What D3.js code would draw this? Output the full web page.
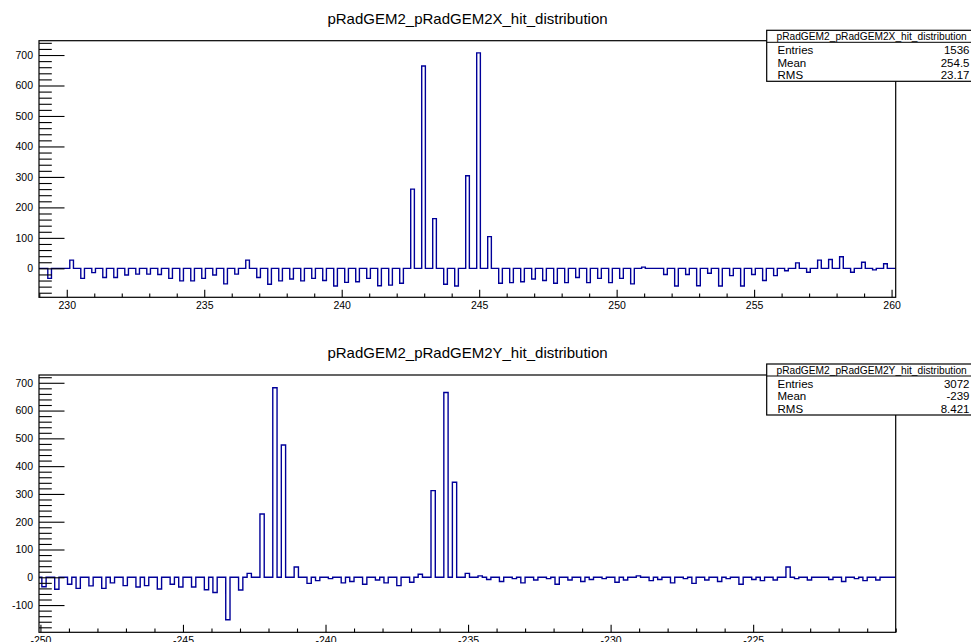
<!DOCTYPE html>
<html><head><meta charset="utf-8">
<script src="https://cdn.jsdelivr.net/npm/d3@7"></script>
<style>
body{margin:0;background:#fff}
text{font-family:"Liberation Sans",Arial,Helvetica,sans-serif;fill:#000}
</style>
</head><body>
<svg id="c" width="971" height="642"></svg>
<script>
// ---------------- data ----------------
const titleX = "pRadGEM2_pRadGEM2X_hit_distribution";
const titleY = "pRadGEM2_pRadGEM2Y_hit_distribution";
const statsXLabels = ["Entries", "Mean", "RMS"];
const statsXValues = ["1536", "254.5", "23.17"];
const statsYLabels = ["Entries", "Mean", "RMS"];
const statsYValues = ["3072", "-239", "8.421"];

// X plane histogram (strip pitch 0.4, bin width 0.4/3)
const xRangeX = [228.99, 260.15];
const yRangeX = [-95, 747];
const xMajorX = [230, 235, 240, 245, 250, 255, 260];
const yMajorX = [0, 100, 200, 300, 400, 500, 600, 700];
const binWidthX = 0.4 / 3;
const binOriginX = 229.31;
const firstStripX = 229.31 + 0.2 / 3;
const stripPitchX = 0.4;
const stripValuesX = [
  -33, 0, 27, -33, -14, -30, -30, -22, -19, -19,
  -20, -33, -41, -41, -33, -22, -51, -19, 27, -30,
  -52, -41, -35, -41, -33, -40, -58, -46, -44, -33,
  -57, -55, -49, 260, 664, 163, -52, -58, 304, 707,
  104, -49, -47, -44, -35, -40, -49, -47, -30, -47,
  -33, -47, -33, -51, 4, 0, -20, -58, -20, -57,
  -16, -58, -24, -58, -20, -40, -24, -8, 18, -13,
  27, 29, 38, -13, 20, -5, 15, 0
];

// Y plane histogram (strip pitch 0.4, bin width 0.15)
const xRangeY = [-250.05, -220.0];
const yRangeY = [-198, 728];
const xMajorY = [-250, -245, -240, -235, -230, -225];
const yMajorY = [-100, 0, 100, 200, 300, 400, 500, 600, 700];
const binWidthY = 0.15;
const binOriginY = -242.30;
const firstStripY = -242.249 - 19 * 0.4;
const stripPitchY = 0.4;
const stripValuesY = [
  -34, -43, -25, -40, -31, -40, -20, -30, -35, -30,
  -42, -25, -35, -35, -45, -55, -153, -46, 14, 228,
  682, 476, 37, -22, -12, -5, -20, -15, -25, -10,
  -20, -30, -18, 11, 312, 665, 342, 14, 5, -8,
  -15, -5, -20, -10, -5, -25, -10, -15, -8, -5,
  -18, -10, 5, -12, -8, -20, -5, -22, -10, -15,
  -5, -25, -8, -12, -10, 37, -5, -10, 0, -8,
  -15, -5, -12, -10, 0
];

// ---------------- drawing ----------------
const svg = d3.select("#c");
const FL = 39, FR = 895.7;
const lineColor = "#000099";
const fmt = d => String(d);   // ROOT uses plain hyphen-minus

function fillBins(origin, bw, first, pitch, values) {
  const m = new Map();
  values.forEach((v, k) => {
    const pos = first + k * pitch;
    const bi = Math.floor((pos - origin) / bw + 1e-9);
    m.set(bi, (m.get(bi) || 0) + v);
  });
  return m;
}

function panel(o) {
  const g = svg.append("g");
  const x = d3.scaleLinear().domain(o.xRange).range([FL, FR]);
  const y = d3.scaleLinear().domain(o.yRange).range([o.bottom, o.top]);

  // title
  g.append("text").attr("x", 467.5).attr("y", o.top - 17)
    .attr("text-anchor", "middle").style("font-size", "15px").text(o.title);

  // histogram
  const bins = fillBins(o.origin, o.bw, o.first, o.pitch, o.values);
  const i0 = Math.floor((o.xRange[0] - o.origin) / o.bw);
  const i1 = Math.ceil((o.xRange[1] - o.origin) / o.bw);
  const pts = [];
  for (let i = i0; i < i1; i++) {
    const l = Math.max(o.origin + i * o.bw, o.xRange[0]);
    const r = Math.min(o.origin + (i + 1) * o.bw, o.xRange[1]);
    const c = bins.get(i) || 0;
    pts.push([l, c], [r, c]);
  }
  const clipId = "clip" + o.id;
  svg.append("clipPath").attr("id", clipId).append("rect")
    .attr("x", FL).attr("y", o.top).attr("width", FR - FL).attr("height", o.bottom - o.top);
  g.append("path").attr("clip-path", `url(#${clipId})`)
    .attr("d", d3.line().x(d => x(d[0])).y(d => y(d[1]))(pts))
    .attr("fill", "none").attr("stroke", lineColor).attr("stroke-width", 1.4);

  // x axis
  const xMinor = d3.range(Math.ceil(o.xRange[0]), Math.floor(o.xRange[1]) + 1)
    .filter(v => !o.xMajor.includes(v));
  const gx = g.append("g").attr("transform", `translate(0,${o.bottom})`);
  gx.call(d3.axisBottom(x).tickValues(o.xMajor).tickSize(-7.5).tickPadding(4.5).tickFormat(fmt));
  gx.append("g").call(d3.axisBottom(x).tickValues(xMinor).tickSize(-3.8).tickFormat(""));
  // y axis
  const yMinor = d3.range(Math.ceil(o.yRange[0] / 20) * 20, o.yRange[1], 20)
    .filter(v => v % 100 !== 0);
  const gy = g.append("g").attr("transform", `translate(${FL},0)`);
  gy.call(d3.axisLeft(y).tickValues(o.yMajor).tickSize(-25.5).tickPadding(6).tickFormat(fmt));
  gy.append("g").call(d3.axisLeft(y).tickValues(yMinor).tickSize(-12.8).tickFormat(""));
  g.selectAll(".domain").remove();
  g.selectAll(".tick line").attr("stroke", "#000").attr("stroke-width", 1.1);
  g.selectAll(".tick text").style("font-size", "10.5px")
    .style("font-family", '"Liberation Sans",Arial,sans-serif').attr("fill", "#000");

  // frame
  g.append("rect").attr("x", FL).attr("y", o.top).attr("width", FR - FL)
    .attr("height", o.bottom - o.top).attr("fill", "none")
    .attr("stroke", "#000").attr("stroke-width", 1.2);

  // stats box
  const bx = 766.7, by = o.statsTop;
  const sb = g.append("g");
  sb.append("rect").attr("x", bx).attr("y", by).attr("width", 971 - bx + 5).attr("height", 51)
    .attr("fill", "#fff").attr("stroke", "#000").attr("stroke-width", 1.2);
  sb.append("line").attr("x1", bx).attr("x2", 972).attr("y1", by + 12).attr("y2", by + 12)
    .attr("stroke", "#000").attr("stroke-width", 1);
  sb.append("text").attr("x", 776.5).attr("y", by + 9.6).style("font-size", "10.2px").text(o.title);
  const rows = [23.6, 36.2, 48.5];
  o.statsLabels.forEach((lab, i) => {
    sb.append("text").attr("x", 777.5).attr("y", by + rows[i]).style("font-size", "11.5px").text(lab);
    sb.append("text").attr("x", 969.5).attr("y", by + rows[i]).attr("text-anchor", "end")
      .style("font-size", "11.5px").text(o.statsValues[i]);
  });
}

panel({id: "X", title: titleX, top: 40.7, bottom: 297.3, statsTop: 30.3,
  xRange: xRangeX, yRange: yRangeX, xMajor: xMajorX, yMajor: yMajorX,
  origin: binOriginX, bw: binWidthX, first: firstStripX, pitch: stripPitchX, values: stripValuesX,
  statsLabels: statsXLabels, statsValues: statsXValues});
panel({id: "Y", title: titleY, top: 375, bottom: 632.3, statsTop: 364,
  xRange: xRangeY, yRange: yRangeY, xMajor: xMajorY, yMajor: yMajorY,
  origin: binOriginY, bw: binWidthY, first: firstStripY, pitch: stripPitchY, values: stripValuesY,
  statsLabels: statsYLabels, statsValues: statsYValues});
</script>
</body></html>
